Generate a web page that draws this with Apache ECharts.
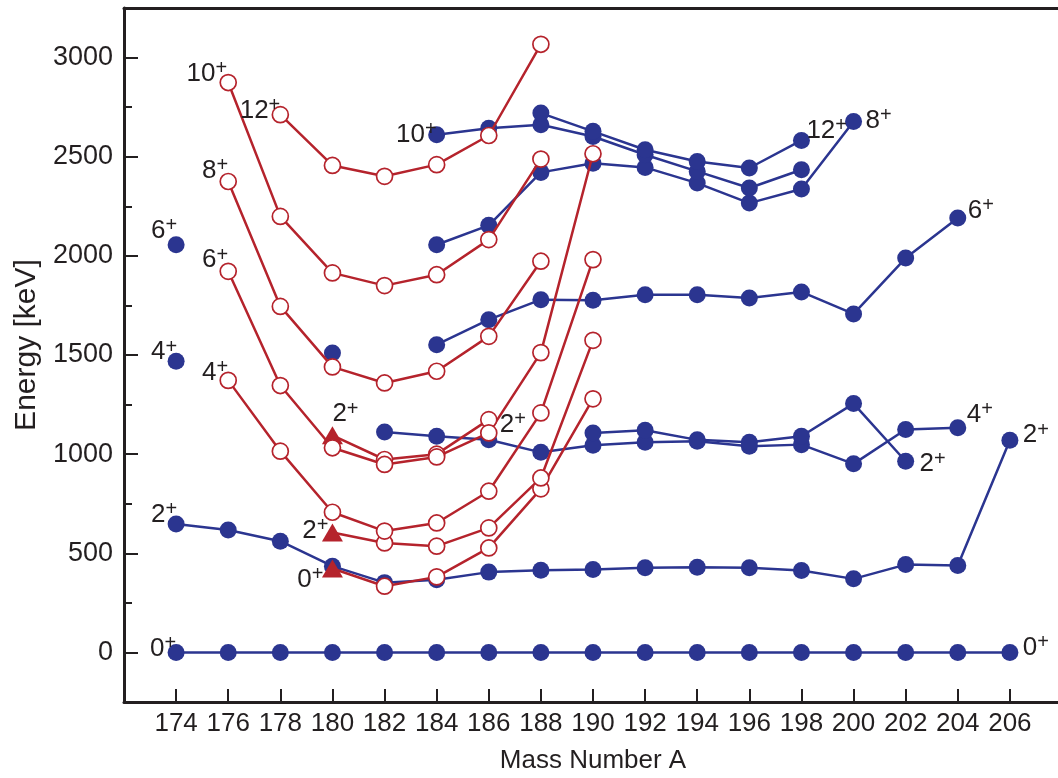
<!DOCTYPE html>
<html><head><meta charset="utf-8">
<script src="https://cdn.jsdelivr.net/npm/echarts@6/dist/echarts.min.js"></script>
<style>html,body{margin:0;padding:0;background:#fff}#c{width:1058px;height:778px}</style>
</head><body><div id="c"></div>
<script>
// ---- tick labels ----
const massTicks = [174,176,178,180,182,184,186,188,190,192,194,196,198,200,202,204,206];
const energyTicks = [0,500,1000,1500,2000,2500,3000];
const energyMinorTicks = [250,750,1250,1750,2250,2750];

// ---- blue (filled circles) : [A, E keV] ----
const blueG0 = [[174,0],[176,0],[178,0],[180,0],[182,0],[184,0],[186,0],[188,0],[190,0],[192,0],[194,0],[196,0],[198,0],[200,0],[202,0],[204,0],[206,0]];
const blue2 = [[174,648],[176,617],[178,561],[180,435],[182,352],[184,367],[186,405],[188,415],[190,418],[192,427],[194,430],[196,427],[198,413],[200,371],[202,443],[204,438],[206,1070]];
const blue4 = [[182,1112],[184,1090],[186,1073],[188,1009],[190,1045],[192,1060],[194,1065],[196,1040],[198,1048],[200,951],[202,1124],[204,1133]];
const blue2b = [[190,1107],[192,1120],[194,1072],[196,1060],[198,1090],[200,1255],[202,964]];
const blue6 = [[184,1552],[186,1678],[188,1779],[190,1776],[192,1804],[194,1804],[196,1788],[198,1818],[200,1707],[202,1989],[204,2191]];
const blue8 = [[184,2056],[186,2154],[188,2421],[190,2467],[192,2446],[194,2367],[196,2266],[198,2337],[200,2678]];
const blue10 = [[184,2611],[186,2644],[188,2661],[190,2602],[192,2510],[194,2426],[196,2342],[198,2434]];
const blue12 = [[188,2720],[190,2628],[192,2535],[194,2476],[196,2443],[198,2582]];
const blueSingles = [[174,1468],[174,2056],[180,1510]];

// ---- red (open circles; first point of some bands is a triangle) ----
const red0 = [[180,423],[182,334],[184,381],[186,527],[188,825],[190,1279]];
const red2 = [[180,605],[182,552],[184,536],[186,628],[188,880],[190,1574]];
const red2b = [[180,1095],[182,973],[184,1000],[186,1174]];
const red4 = [[176,1372],[178,1015],[180,707],[182,612],[184,653],[186,813],[188,1208],[190,1981]];
const red6 = [[176,1922],[178,1346],[180,1032],[182,948],[184,986],[186,1107],[188,1512],[190,2515]];
const red8 = [[176,2375],[178,1745],[180,1440],[182,1359],[184,1418],[186,1594],[188,1973]];
const red10 = [[176,2874],[178,2199],[180,1914],[182,1850],[184,1905],[186,2082],[188,2488]];
const red12 = [[178,2712],[180,2456],[182,2401],[184,2460],[186,2607],[188,3067]];

// ---- level labels: [spin, A, E] ----
const levelLabels = [
  ['10',176,2874],['12',178,2712],['8',176,2375],['6',174,2056],['6',176,1922],
  ['4',174,1468],['4',176,1372],['2',180,1095],['2',186,1174],['2',174,648],
  ['2',180,605],['0',180,423],['0',174,0],['10',184,2611],['12',198,2582],
  ['8',200,2678],['6',204,2191],['4',204,1133],['2',202,964],['2',206,1070],['0',206,0]
];
// placement of each label (style only): [dx, dy, align]
const labelPlacement = [
  [-1,-9,'right'],[0,-4,'right'],[0,-11,'right'],[1,-14,'right'],[0,-11,'right'],
  [1,-9,'right'],[0,-8,'right'],[0,-21,'left'],[11,5,'left'],[1,-9,'right'],
  [-4,-2,'right'],[-9,11,'right'],[0,-4,'right'],[0,0,'right'],[5,-10,'left'],
  [12,-1,'left'],[10,-7,'left'],[9,-13,'left'],[14,3,'left'],[13,-5,'left'],[13,-5,'left']
];

const BLUE = '#2b3590', RED = '#b5232c', INK = '#231f20';
const FONT = 'Liberation Sans';

function blueLine(data){
  return {type:'line', data:data, symbol:'circle', symbolSize:17, z:2,
    lineStyle:{color:BLUE, width:2.5}, itemStyle:{color:BLUE, opacity:1}};
}
function redLine(data, firstTriangle){
  const d = data.map((p,i)=> (firstTriangle && i===0) ?
     {value:p, symbol:'triangle', symbolSize:[21,18], itemStyle:{color:RED, borderColor:RED, borderWidth:0}} : {value:p});
  return {type:'line', data:d, symbol:'circle', symbolSize:16, z:3,
    lineStyle:{color:RED, width:2.5}, itemStyle:{color:'#fff', borderColor:RED, borderWidth:1.7, opacity:1}};
}

const labelData = levelLabels.map((l,i)=>({
  value:[l[1], l[2]],
  label:{show:true, position:[labelPlacement[i][0], labelPlacement[i][1]], align:labelPlacement[i][2],
    verticalAlign:'middle', formatter:'{n|'+l[0]+'}{s|+}'}
}));

const chart = echarts.init(document.getElementById('c'), null, {renderer:'canvas'});
chart.setOption({
  animation:false,
  backgroundColor:'#fff',
  grid:{left:124, top:8, width:938, height:694, containLabel:false, outerBoundsMode:'none'},
  xAxis:[{
    type:'value', min:172, max:208, interval:2,
    axisLine:{show:true, onZero:false, lineStyle:{color:INK, width:3}},
    axisTick:{show:true, inside:true, length:13, customValues:massTicks, lineStyle:{color:INK, width:2}},
    axisLabel:{show:true, customValues:massTicks, margin:9, fontSize:26, color:INK, fontFamily:FONT,
      formatter:(v)=>String(v)},
    splitLine:{show:false},
    name:'Mass Number A', nameLocation:'middle', nameGap:46,
    nameTextStyle:{fontSize:26, color:INK, fontFamily:FONT}
  },{
    type:'value', position:'top', min:172, max:208, interval:2,
    axisLine:{show:true, onZero:false, lineStyle:{color:INK, width:3}},
    axisTick:{show:false}, axisLabel:{show:false}, splitLine:{show:false}
  }],
  yAxis:[{
    type:'value', min:-250, max:3250, interval:250,
    axisLine:{show:true, onZero:false, lineStyle:{color:INK, width:3}},
    axisTick:{show:true, inside:true, length:14, customValues:energyTicks, lineStyle:{color:INK, width:2}},
    axisLabel:{show:true, customValues:energyTicks, margin:11, fontSize:27, color:INK, fontFamily:FONT,
      formatter:(v)=>String(v)},
    splitLine:{show:false},
    name:'Energy [keV]', nameLocation:'middle', nameGap:74,
    nameTextStyle:{fontSize:30, color:INK, fontFamily:FONT, padding:[0,0,0,20]}
  },{
    type:'value', position:'left', min:-250, max:3250, interval:250,
    axisLine:{show:false},
    axisTick:{show:true, inside:true, length:8, customValues:energyMinorTicks, lineStyle:{color:INK, width:2}},
    axisLabel:{show:false}, splitLine:{show:false}
  }],
  series:[
    blueLine(blueG0), blueLine(blue2), blueLine(blue4), blueLine(blue2b), blueLine(blue6),
    blueLine(blue8), blueLine(blue10), blueLine(blue12),
    {type:'scatter', data:blueSingles, symbol:'circle', symbolSize:17, itemStyle:{color:BLUE, opacity:1}, z:2},
    redLine(red0,true), redLine(red2,true), redLine(red2b,true), redLine(red4,false),
    redLine(red6,false), redLine(red8,false), redLine(red10,false), redLine(red12,false),
    {type:'scatter', data:labelData, symbolSize:0.1, itemStyle:{color:'transparent', opacity:1}, z:5, silent:true,
     label:{show:true, color:INK, opacity:1, fontFamily:FONT,
       rich:{
         n:{fontSize:26, lineHeight:26, color:INK, fontFamily:FONT, verticalAlign:'bottom'},
         s:{fontSize:20, lineHeight:20, color:INK, fontFamily:FONT, verticalAlign:'bottom', padding:[0,0,8,0]}
       }}}
  ]
});
</script></body></html>
